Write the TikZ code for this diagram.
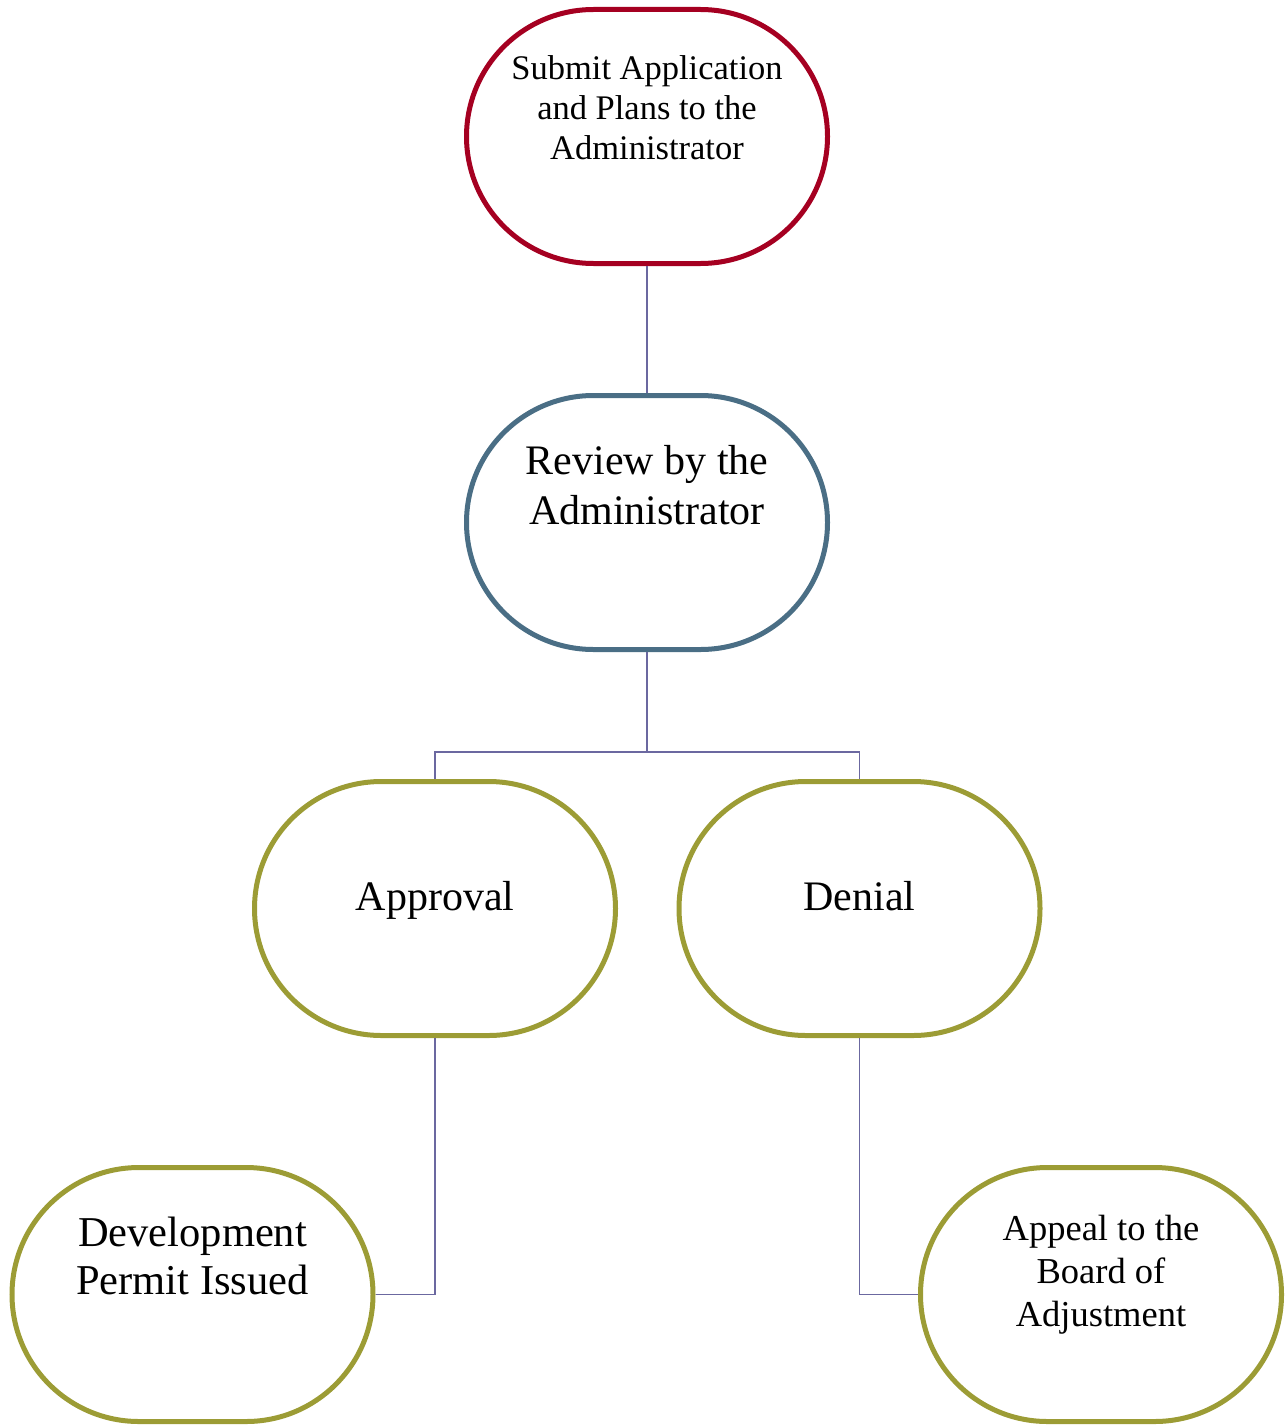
\documentclass[tikz,border=0pt]{standalone}
\usepackage{fontspec}
\setmainfont{Liberation Serif}
\definecolor{stepred}{HTML}{A50021}
\definecolor{stepblue}{HTML}{4A6E85}
\definecolor{stepolive}{HTML}{9C9C35}
\definecolor{linkviolet}{HTML}{6B68A0}
\begin{document}
\begin{tikzpicture}[x=1pt,y=-1pt,
  stepbox/.style={draw, line width=5pt, rounded corners=127pt, minimum width=361pt, minimum height=254pt, inner sep=0pt},
  steptext/.style={align=center, inner sep=0pt},
  link/.style={draw=linkviolet, line width=1.8pt}]
\useasboundingbox (0,0) rectangle (1287,1426);
\node[stepbox, stepred] (submit) at (647,136.5){};
\node[stepbox, stepblue] (review) at (647,522.5){};
\node[stepbox, stepolive] (approval) at (435,908.5){};
\node[stepbox, stepolive] (denial) at (859.5,908.5){};
\node[stepbox, stepolive] (permit) at (192.5,1294.5){};
\node[stepbox, stepolive] (appeal) at (1101,1294.5){};
\node[steptext, font=\fontsize{34.5}{40}\selectfont] (submit-txt) at (647,108){Submit Application\\and Plans to the\\Administrator};
\node[steptext, font=\fontsize{42}{50}\selectfont] (review-txt) at (647,485){Review by the\\Administrator};
\node[steptext, anchor=base, font=\fontsize{42}{50}\selectfont] (approval-txt) at (435,910){Approval};
\node[steptext, anchor=base, font=\fontsize{42}{50}\selectfont] (denial-txt) at (859.5,910){Denial};
\node[steptext, font=\fontsize{42.5}{48}\selectfont] (permit-txt) at (192.5,1256){Development\\Permit Issued};
\node[steptext, font=\fontsize{36.5}{43}\selectfont] (appeal-txt) at (1101,1275){Appeal to the\\Board of\\Adjustment};
\coordinate (split) at (647,752);
\draw[link](submit) -- (review);
\draw[link](review) -- (split);
\draw[link](split) -| (approval.north);
\draw[link](split) -| (denial.north);
\draw[link](approval) |- (permit.east);
\draw[link](denial) |- (appeal.west);

\end{tikzpicture}
\end{document}
